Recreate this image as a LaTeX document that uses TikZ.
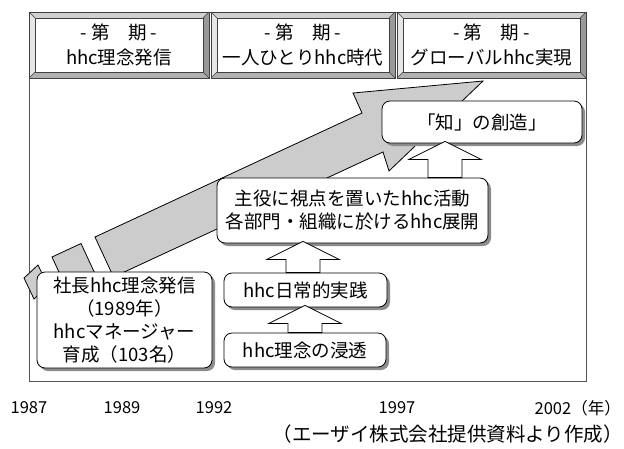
\documentclass[tikz,border=0pt]{standalone}
\usepackage{fontspec}
\setmainfont{Noto Sans CJK JP}
\usetikzlibrary{calc,shadows}
\definecolor{arrowgray}{HTML}{CCCCCC}
\definecolor{framegray}{HTML}{555555}
\definecolor{bevleft}{HTML}{E6E6E6}
\definecolor{bevtop}{HTML}{D0D0D0}
\definecolor{bevright}{HTML}{999999}
\definecolor{bevbottom}{HTML}{B0B0B0}
\newcommand\hdrbox[4]{% name, x1, x2, text
  \fill[bevtop] (#2,12) -- (#3,12) -- (#3-6,18) -- (#2+6,18) -- cycle;
  \fill[bevleft] (#2,12) -- (#2+6,18) -- (#2+6,72) -- (#2,78) -- cycle;
  \fill[bevright] (#3,12) -- (#3,78) -- (#3-6,72) -- (#3-6,18) -- cycle;
  \fill[bevbottom] (#2,78) -- (#3,78) -- (#3-6,72) -- (#2+6,72) -- cycle;
  \fill[white] (#2+6,18) rectangle (#3-6,72);
  \draw[hdrline] (#2,12) rectangle (#3,78);
  \draw[hdrline] (#2+6,18) rectangle (#3-6,72);
  \draw[hdrline] (#2,12) -- (#2+6,18) (#3,12) -- (#3-6,18)
                 (#2,78) -- (#2+6,72) (#3,78) -- (#3-6,72);
  \node[hdrtext] (#1) at ({(#2+#3)/2},45) {#4};
}
\newcommand\blkarr[3]{% x, lower node, upper node
  \draw[blkarrow] let \p1=(#1,0), \p2=(#2.north), \p3=(#3.south) in
   (\x1-17pt,\y2) -- (\x1-17pt,\y3-16pt) -- (\x1-36pt,\y3-16pt) -- (\x1,\y3+2pt)
   -- (\x1+36pt,\y3-16pt) -- (\x1+17pt,\y3-16pt) -- (\x1+17pt,\y2) -- cycle;
}
\begin{document}
\begin{tikzpicture}[x=1pt,y=-1pt,
  cbox/.style={draw=black, fill=white, rounded corners=8pt, line width=0.8pt,
    align=center, inner sep=0pt, font=\fontsize{18.5}{23}\selectfont,
    drop shadow={shadow xshift=3pt, shadow yshift=-3pt, fill=black!45, opacity=1}},
  blkarrow/.style={draw=black, fill=white, line width=0.8pt, line join=miter},
  bigarrow/.style={draw=black, fill=arrowgray, line width=0.8pt, line join=miter},
  hdrline/.style={draw=black!75, line width=0.6pt},
  hdrtext/.style={align=center, font=\fontsize{18.5}{25}\selectfont, inner sep=0pt},
  yr/.style={font=\fontsize{16.5}{20}\selectfont, inner sep=0pt},
]
\useasboundingbox (0,0) rectangle (624,448);
% frame
\draw[framegray, line width=0.8pt] (29,12) rectangle (586,381);
% big broken arrow
\draw[bigarrow] (24,278) -- (38,265) -- (48,286) -- (34,299) -- cycle;
\draw[bigarrow] (52,257) -- (81,243.5) -- (99.5,283.5) -- (70.5,297) -- cycle;
\draw[bigarrow] (95,237) -- (362,113) -- (353,93) -- (483,81) -- (389,171)
  -- (383,152) -- (113.5,277) -- cycle;
% headers
\hdrbox{h1}{29}{209}{- 第　期 -\\hhc理念発信}
\hdrbox{h2}{211}{395}{- 第　期 -\\一人ひとりhhc時代}
\hdrbox{h3}{397}{586}{- 第　期 -\\グローバルhhc実現}
% content boxes
\node[cbox, minimum width=200pt, minimum height=42pt] (chi) at (482,122) {「知」の創造」};
\node[cbox, minimum width=271pt, minimum height=65pt] (shuyaku) at (352.5,210.5)
  {主役に視点を置いたhhc活動\\各部門・組織に於けるhhc展開};
\node[cbox, minimum width=163pt, minimum height=34pt] (nichijo) at (305.5,290) {hhc日常的実践};
\node[cbox, minimum width=162pt, minimum height=34pt] (shinto) at (305,350) {hhc理念の浸透};
\node[cbox, minimum width=175pt, minimum height=96pt] (shacho) at (124.5,320)
  {社長hhc理念発信\\（1989年）\\hhcマネージャー\\育成（103名）};
% block arrows
\blkarr{303}{nichijo}{shuyaku}
\blkarr{305}{shinto}{nichijo}
\blkarr{445}{shuyaku}{chi}
% years
\node[yr] (y1) at (29,408) {1987};
\node[yr] (y2) at (122,408) {1989};
\node[yr] (y3) at (214,408) {1992};
\node[yr] (y4) at (397,408) {1997};
\node[yr, anchor=east] (y5) at (621,408) {2002（年）};
\node[font=\fontsize{19.5}{22}\selectfont, inner sep=0pt, anchor=east] (cap) at (623,434)
  {（エーザイ株式会社提供資料より作成）};
\end{tikzpicture}
\end{document}
